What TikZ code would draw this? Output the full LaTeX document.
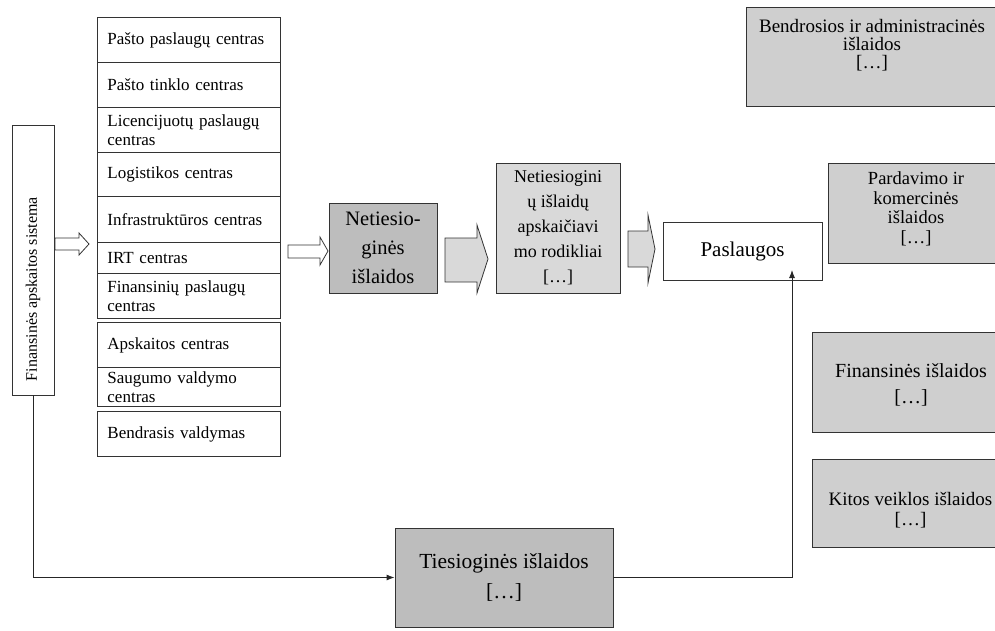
\documentclass[tikz,border=0pt]{standalone}
\usepackage{fontspec}
\setmainfont{Liberation Serif}
\usetikzlibrary{arrows.meta}
\begin{document}
\begin{tikzpicture}[x=1pt,y=-1pt,
  box/.style={draw=black!80, line width=0.9pt, inner sep=0pt},
  colbox/.style={box, anchor=north west, text width=163pt, inner xsep=10pt, inner ysep=0pt, align=left, font=\fontsize{17}{19}\selectfont},
  darkfill/.style={fill=black!26},
  lightfill/.style={fill=black!15},
  midfill/.style={fill=black!19},
  conn/.style={draw=black!85, line width=0.9pt, -{Latex[length=8pt,width=6pt]}},
  blockarrow/.style={draw=black!80, line width=0.8pt, line join=miter}
]
\useasboundingbox (0,0) rectangle (995,630);
\clip (0,0) rectangle (995,630);

% left vertical box
\node[box, minimum width=42pt, minimum height=270pt] (fas) at (33,260) {};
\node[rotate=90, font=\fontsize{16}{18}\selectfont, inner sep=0pt] (fastext) at (33,289) {Finansinės apskaitos sistema};

% column of centres
\node[colbox, minimum height=45pt] (c1) at (97,17) {Pašto paslaugų centras};
\node[colbox, minimum height=45pt] (c2) at (97,62) {Pašto tinklo centras};
\node[colbox, minimum height=45pt] (c3) at (97,107) {Licencijuotų paslaugų centras};
\node[colbox, minimum height=44pt] (c4) at (97,152) {Logistikos centras};
\node[colbox, minimum height=46pt] (c5) at (97,196) {Infrastruktūros centras};
\node[colbox, minimum height=31pt] (c6) at (97,242) {IRT centras};
\node[colbox, minimum height=45pt] (c7) at (97,273) {Finansinių paslaugų centras};
\node[colbox, minimum height=45pt] (c8) at (97,322) {Apskaitos centras};
\node[colbox, minimum height=39pt] (c9) at (97,367) {Saugumo valdymo centras};
\node[colbox, minimum height=45pt] (c10) at (97,411) {Bendrasis valdymas};

% middle chain
\node[box, darkfill, minimum width=108pt, minimum height=90pt, align=center, font=\fontsize{20.5}{29}\selectfont] (net) at (383,248) {Netiesio-\\ginės\\išlaidos};
\node[box, lightfill, minimum width=124pt, minimum height=130pt, align=center, font=\fontsize{18}{25}\selectfont] (rod) at (558,228) {Netiesiogini\\ų išlaidų\\apskaičiavi\\mo rodikliai\\{[…]}};
\node[box, fill=white, minimum width=159pt, minimum height=58pt, font=\fontsize{21}{24}\selectfont] (pas) at (742.5,251) {Paslaugos};

% block arrows
\draw[blockarrow, fill=white] (55,238) -- (79,238) -- (79,233) -- (89,244) -- (79,255) -- (79,250) -- (55,250) -- cycle;
\draw[blockarrow, fill=white] (288,245) -- (320,245) -- (320,237) -- (328,251) -- (320,265) -- (320,258) -- (288,258) -- cycle;
\draw[blockarrow, lightfill] (445,238) -- (477,238) -- (477,225) -- (488,259) -- (477,293) -- (477,282) -- (445,282) -- cycle;
\draw[blockarrow, lightfill] (628,231) -- (648,231) -- (648,215) -- (655,249) -- (648,283) -- (648,267) -- (628,267) -- cycle;

% right-hand boxes
\node[box, midfill, minimum width=252pt, minimum height=99pt] (adm) at (872,56.5) {};
\node[align=center, font=\fontsize{19}{18}\selectfont, inner sep=0pt] (admtext) at (872,45) {Bendrosios ir administracinės\\išlaidos\\{[…]}};
\node[box, midfill, minimum width=176pt, minimum height=100pt] (par) at (916,213) {};
\node[align=center, font=\fontsize{18.5}{19.5}\selectfont, inner sep=0pt] (partext) at (916,209) {Pardavimo ir\\komercinės\\išlaidos\\{[…]}};
\node[box, midfill, minimum width=198pt, minimum height=100pt] (fin) at (911,382) {};
\node[align=center, font=\fontsize{20}{26}\selectfont, inner sep=0pt] (fintext) at (911,385) {Finansinės išlaidos\\{[…]}};
\node[box, midfill, minimum width=198pt, minimum height=88pt] (kit) at (911,503) {};
\node[align=center, font=\fontsize{19}{20}\selectfont, inner sep=0pt] (kittext) at (910.5,510) {Kitos veiklos išlaidos\\{[…]}};

% direct costs
\node[box, darkfill, minimum width=218pt, minimum height=99pt, align=center, font=\fontsize{21.5}{30}\selectfont] (tie) at (504,577.5) {Tiesioginės išlaidos\\{[…]}};

% connectors
\coordinate (pin) at (792,270);
\draw[conn] (fas.south) |- (tie.west);
\draw[conn] (tie.east) -| (pin);
\end{tikzpicture}
\end{document}
